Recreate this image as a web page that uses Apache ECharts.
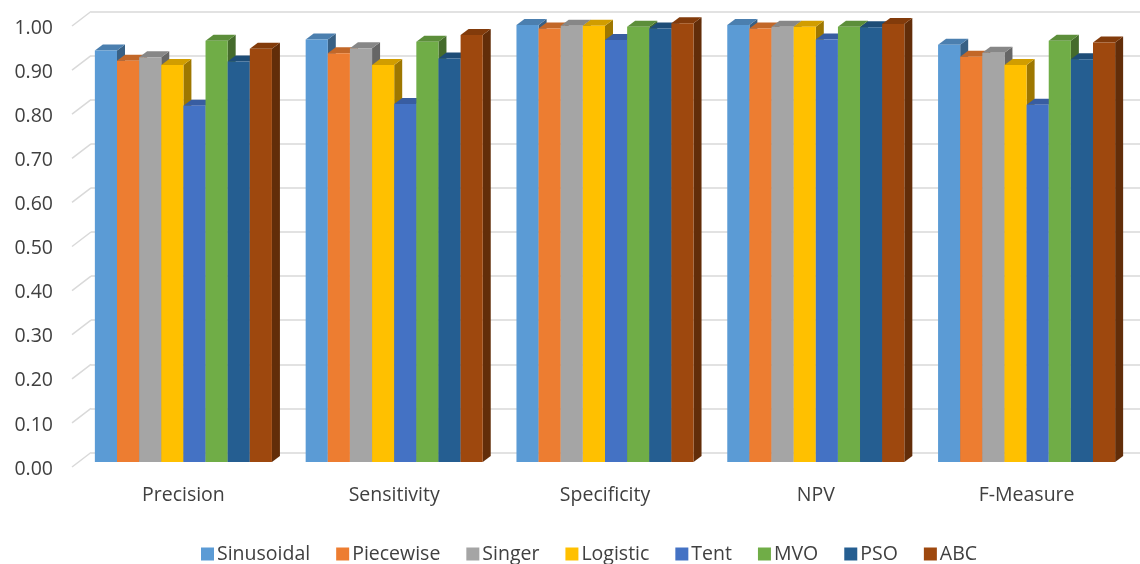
<!DOCTYPE html>
<html>
<head>
<meta charset="utf-8">
<script src="https://cdn.jsdelivr.net/npm/echarts@6/dist/echarts.min.js"></script>
<style>
  html, body { margin: 0; padding: 0; background: #ffffff; }
  #chart { width: 1140px; height: 564px; }
</style>
</head>
<body>
<div id="chart"></div>
<script>
// Metrics on the category axis
const categories = ['Precision', 'Sensitivity', 'Specificity', 'NPV', 'F-Measure'];

// Score of each method per metric
const sinusoidal = [0.933, 0.958, 0.991, 0.991, 0.946];
const piecewise  = [0.910, 0.927, 0.983, 0.983, 0.919];
const singer     = [0.918, 0.938, 0.989, 0.987, 0.928];
const logistic   = [0.900, 0.900, 0.989, 0.987, 0.900];
const tent       = [0.808, 0.812, 0.957, 0.958, 0.810];
const mvo        = [0.955, 0.953, 0.987, 0.987, 0.955];
const pso        = [0.908, 0.915, 0.983, 0.986, 0.913];
const abc        = [0.937, 0.968, 0.995, 0.993, 0.951];

// Value axis ticks
const yTicks = [0, 0.1, 0.2, 0.3, 0.4, 0.5, 0.6, 0.7, 0.8, 0.9, 1.0];

const methods = [
  { name: 'Sinusoidal', data: sinusoidal, color: '#5B9BD5' },
  { name: 'Piecewise',  data: piecewise,  color: '#ED7D31' },
  { name: 'Singer',     data: singer,     color: '#A5A5A5' },
  { name: 'Logistic',   data: logistic,   color: '#FFC000' },
  { name: 'Tent',       data: tent,       color: '#4472C4' },
  { name: 'MVO',        data: mvo,        color: '#70AD47' },
  { name: 'PSO',        data: pso,        color: '#255E91' },
  { name: 'ABC',        data: abc,        color: '#9E480E' }
];

const GROUP_GAP = 0.16;   // share of each category band left empty
const DEPTH_X = 8, DEPTH_Y = -6; // extrusion of the 3D columns
const WALL_DX = -19, WALL_DY = 14.5; // left wall slant from back to front

function shade(hex, f) {
  const n = parseInt(hex.slice(1), 16);
  const r = Math.round(((n >> 16) & 255) * f);
  const g = Math.round(((n >> 8) & 255) * f);
  const b = Math.round((n & 255) * f);
  return 'rgb(' + r + ',' + g + ',' + b + ')';
}

function columnRenderer(idx, color) {
  const side = shade(color, 0.62);
  const top = shade(color, 0.82);
  return function (params, api) {
    const cat = api.value(0);
    const v = api.value(1);
    const base = api.coord([cat, 0]);
    const head = api.coord([cat, v]);
    const band = api.size([1, 0])[0];
    const groupW = band * (1 - GROUP_GAP);
    const bw = groupW / methods.length;
    const x0 = base[0] - groupW / 2 + idx * bw;
    const x1 = x0 + bw;
    const yt = head[1], yb = base[1];
    return {
      type: 'group',
      children: [
        { type: 'polygon',
          shape: { points: [[x1, yt], [x1 + DEPTH_X, yt + DEPTH_Y], [x1 + DEPTH_X, yb + DEPTH_Y], [x1, yb]] },
          style: { fill: side } },
        { type: 'polygon',
          shape: { points: [[x0, yt], [x0 + DEPTH_X, yt + DEPTH_Y], [x1 + DEPTH_X, yt + DEPTH_Y], [x1, yt]] },
          style: { fill: top } },
        { type: 'rect',
          shape: { x: x0, y: yt, width: bw, height: yb - yt },
          style: { fill: color } }
      ]
    };
  };
}

const barSeries = methods.map(function (m, i) {
  return {
    type: 'custom',
    name: m.name,
    xAxisIndex: 0,
    yAxisIndex: 0,
    itemStyle: { color: m.color },
    renderItem: columnRenderer(i, m.color),
    encode: { x: 0, y: 1 },
    data: m.data.map(function (v, c) { return [c, v]; }),
    z: 10 + i
  };
});

// Slanted left-wall segments joining each back-wall gridline to its label
const wallSeries = {
  type: 'custom',
  name: 'wall',
  xAxisIndex: 1,
  yAxisIndex: 1,
  silent: true,
  renderItem: function (params, api) {
    const p = api.coord([0, api.value(0)]);
    return {
      type: 'line',
      shape: { x1: p[0], y1: p[1], x2: p[0] + WALL_DX, y2: p[1] + WALL_DY },
      style: { stroke: '#d9d9d9', lineWidth: 1.5 }
    };
  },
  data: yTicks.map(function (t) { return [t]; }),
  encode: { y: 0 },
  z: 1
};

const option = {
  animation: false,
  backgroundColor: '#ffffff',
  textStyle: { fontFamily: 'Open Sans' },
  grid: [
    { left: 78, right: 8, top: 21, bottom: 102 },    // columns
    { left: 91, right: 0, top: 11.5, bottom: 111.5 }, // back wall gridlines
    { left: 72, right: 0, top: 28.5, bottom: 95 }     // value labels
  ],
  xAxis: [
    { type: 'category', gridIndex: 0, data: categories,
      axisLine: { show: false }, axisTick: { show: false },
      axisLabel: { margin: 23, fontSize: 19.5, color: '#404040', fontFamily: 'Open Sans' } },
    { type: 'value', gridIndex: 1, min: 0, max: 1, show: false },
    { type: 'value', gridIndex: 2, min: 0, max: 1, show: false }
  ],
  yAxis: [
    { type: 'value', gridIndex: 0, min: 0, max: 1, interval: 0.1, show: false },
    { type: 'value', gridIndex: 1, min: 0, max: 1, interval: 0.1,
      axisLine: { show: false }, axisTick: { show: false }, axisLabel: { show: false },
      splitLine: { show: true, lineStyle: { color: '#d9d9d9', width: 1.5 } } },
    { type: 'value', gridIndex: 2, min: 0, max: 1, interval: 0.1,
      axisLine: { show: false }, axisTick: { show: false }, splitLine: { show: false },
      axisLabel: { margin: 19, fontSize: 19.5, color: '#404040', fontFamily: 'Open Sans',
        formatter: function (v) { return v.toFixed(2); } } }
  ],
  legend: {
    data: methods.map(function (m) { return m.name; }),
    left: 196,
    top: 539,
    icon: 'rect',
    itemWidth: 13,
    itemHeight: 13,
    itemGap: 26,
    textStyle: { fontSize: 19.5, color: '#404040', fontFamily: 'Open Sans', padding: [0, 0, 0, -2] }
  },
  series: [wallSeries].concat(barSeries)
};

const chart = echarts.init(document.getElementById('chart'), null, { renderer: 'canvas' });
chart.setOption(option);
</script>
</body>
</html>
